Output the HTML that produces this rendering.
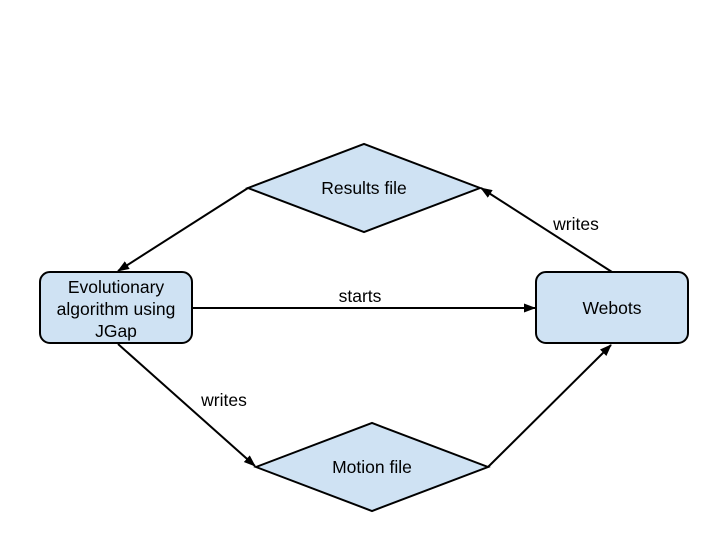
<!DOCTYPE html>
<html><head><meta charset="utf-8"><style>body{margin:0;background:#fff}</style></head>
<body>
<svg width="720" height="540" xmlns="http://www.w3.org/2000/svg" font-family="Liberation Sans, sans-serif" font-size="17.5">
<defs><marker id="a" markerWidth="12" markerHeight="12" refX="11" refY="6" orient="auto" markerUnits="userSpaceOnUse"><path d="M0,1.5 L12,6 L0,10.5 z" fill="#000"/></marker></defs>
<rect x="40" y="272" width="152" height="71" rx="10" fill="#cfe2f3" stroke="#000" stroke-width="2"/>
<rect x="536" y="272" width="152" height="71" rx="10" fill="#cfe2f3" stroke="#000" stroke-width="2"/>
<polygon points="248,188 364,144 480,188 364,232" fill="#cfe2f3" stroke="#000" stroke-width="2"/>
<polygon points="256,467 372,423 488,467 372,511" fill="#cfe2f3" stroke="#000" stroke-width="2"/>
<g stroke="#000" stroke-width="2" fill="none" marker-end="url(#a)">
<line x1="248" y1="188" x2="118" y2="271"/>
<line x1="192" y1="308" x2="535" y2="308"/>
<line x1="118" y1="344" x2="255" y2="466"/>
<line x1="488" y1="467" x2="611" y2="345"/>
<line x1="612" y1="272" x2="481" y2="188"/>
</g>
<g text-anchor="middle" fill="#000">
<text x="116" y="293">Evolutionary</text>
<text x="116" y="315">algorithm using</text>
<text x="116" y="337">JGap</text>
<text x="612" y="314">Webots</text>
<text x="364" y="194">Results file</text>
<text x="372" y="473">Motion file</text>
<text x="360" y="302">starts</text>
<text x="576" y="230">writes</text>
<text x="224" y="406">writes</text>
</g>
</svg>
</body></html>
